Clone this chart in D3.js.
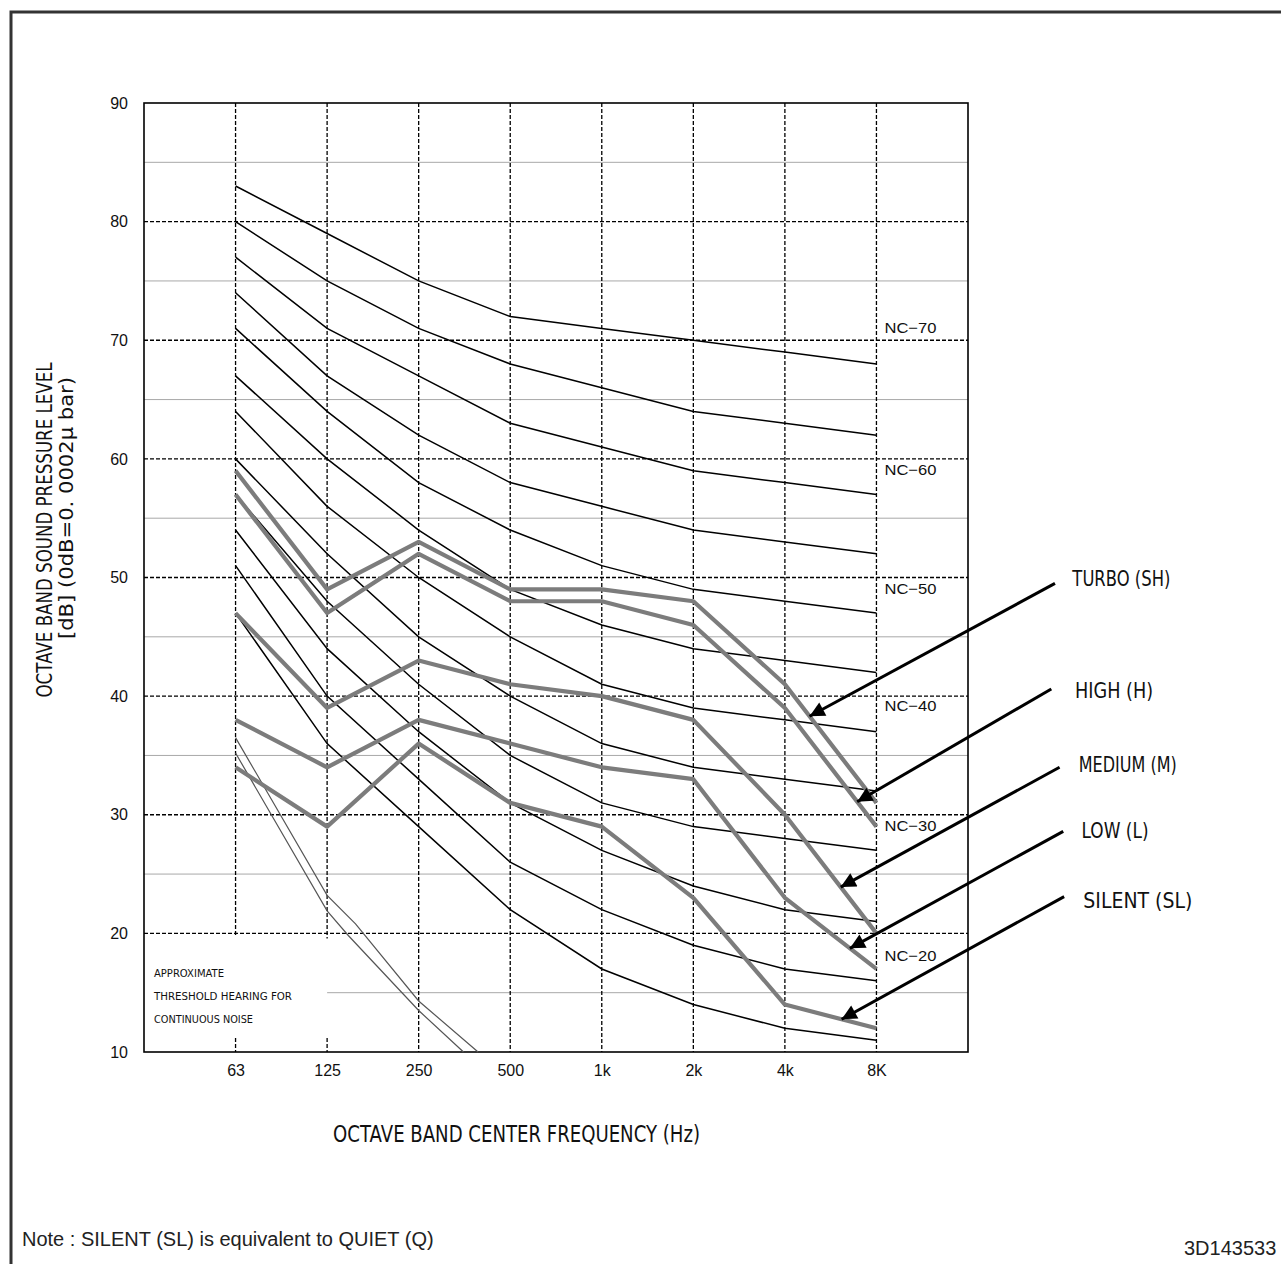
<!DOCTYPE html>
<html>
<head>
<meta charset="utf-8">
<script src="https://cdn.jsdelivr.net/npm/d3@7"></script>
<style>
  body { margin: 0; background: #fff; }
  svg { display: block; }
</style>
</head>
<body>
<div id="chart"></div>
<script>
// octave bands (nominal centre frequency in Hz) and their printed labels
const bandHz = [62.5, 125, 250, 500, 1000, 2000, 4000, 8000];
const bandLabels = ['63', '125', '250', '500', '1k', '2k', '4k', '8K'];

// NC reference curves, dB per band
const nc70 = [83, 79, 75, 72, 71, 70, 69, 68];
const nc65 = [80, 75, 71, 68, 66, 64, 63, 62];
const nc60 = [77, 71, 67, 63, 61, 59, 58, 57];
const nc55 = [74, 67, 62, 58, 56, 54, 53, 52];
const nc50 = [71, 64, 58, 54, 51, 49, 48, 47];
const nc45 = [67, 60, 54, 49, 46, 44, 43, 42];
const nc40 = [64, 56, 50, 45, 41, 39, 38, 37];
const nc35 = [60, 52, 45, 40, 36, 34, 33, 32];
const nc30 = [57, 48, 41, 35, 31, 29, 28, 27];
const nc25 = [54, 44, 37, 31, 27, 24, 22, 21];
const nc20 = [51, 40, 33, 26, 22, 19, 17, 16];
const nc15 = [47, 36, 29, 22, 17, 14, 12, 11];
const ncCurves = [nc70, nc65, nc60, nc55, nc50, nc45, nc40, nc35, nc30, nc25, nc20, nc15];

const ncLabels = ['NC\u221270', 'NC\u221260', 'NC\u221250', 'NC\u221240', 'NC\u221230', 'NC\u221220'];
const ncLabelDb = [70.6, 58.6, 48.65, 38.75, 28.65, 17.65];

// unit operating modes, dB per band
const modeNames = ['TURBO (SH)', 'HIGH (H)', 'MEDIUM (M)', 'LOW (L)', 'SILENT (SL)'];
const turbo = [59, 49, 53, 49, 49, 48, 41, 31];
const high = [57, 47, 52, 48, 48, 46, 39, 29];
const medium = [47, 39, 43, 41, 40, 38, 30, 20];
const low = [38, 34, 38, 36, 34, 33, 23, 17];
const silent = [34, 29, 36, 31, 29, 23, 14, 12];
const modes = [turbo, high, medium, low, silent];

// arrow annotations, in octaves above 63 Hz: tip on the curve, tail, label
const arrowTipOct = [6.27, 6.79, 6.61, 6.71, 6.62];
const arrowTailOct = [8.95, 8.91, 9.0, 9.04, 9.05];
const arrowTailDb = [49.5, 40.6, 34.0, 28.6, 23.1];
const labelOct = [9.14, 9.17, 9.21, 9.24, 9.26];
const labelDb = [49.3, 39.85, 33.6, 28.05, 22.15];
const labelWidths = [98, 78, 98, 67, 109];

// approximate threshold of hearing (Hz, dB)
const thresholdA = [[62.5, 36.5], [125, 23.2], [155, 20.8], [250, 14.3], [392, 10]];
const thresholdB = [[62.5, 35.2], [125, 21.9], [147, 19.8], [250, 13.5], [351, 10]];

const yMajor = [20, 30, 40, 50, 60, 70, 80];
const yMinor = [15, 25, 35, 45, 55, 65, 75, 85];
const yTicks = [10, 20, 30, 40, 50, 60, 70, 80, 90];

const width = 1281;
const height = 1264;
const plot = { left: 144, right: 968, top: 103, bottom: 1052 };

const svg = d3.select('#chart').append('svg')
  .attr('width', width)
  .attr('height', height);

// outer drawing frame
svg.append('path')
  .attr('d', `M11,${height}V12H${width}`)
  .attr('fill', 'none')
  .attr('stroke', '#333')
  .attr('stroke-width', 3);

const x = d3.scaleLog().base(2)
  .domain([31.25, 16000])
  .range([plot.left, plot.right]);
const y = d3.scaleLinear()
  .domain([10, 90])
  .range([plot.bottom, plot.top]);
const xo = (oct) => x(bandHz[0] * 2 ** oct);

// squeezed text like the narrow gothic font of the original
const narrow = (sel, txt, px, py, len, size, anchor) => sel.append('text')
  .attr('x', px)
  .attr('y', py)
  .attr('font-family', 'DejaVu Sans, sans-serif')
  .attr('font-size', size)
  .attr('text-anchor', anchor || 'start')
  .attr('textLength', len)
  .attr('lengthAdjust', 'spacingAndGlyphs')
  .attr('fill', '#111')
  .text(txt);

// minor grid
const grid = svg.append('g');
yMinor.forEach((v) => {
  const gx0 = v === 15 ? x(125) : plot.left;
  grid.append('line')
    .attr('x1', gx0).attr('x2', plot.right)
    .attr('y1', y(v)).attr('y2', y(v))
    .attr('stroke', '#a8a8a8')
    .attr('stroke-width', 1);
});

// major grid
yMajor.forEach((v) => {
  grid.append('line')
    .attr('x1', plot.left).attr('x2', plot.right)
    .attr('y1', y(v)).attr('y2', y(v))
    .attr('stroke', '#000')
    .attr('stroke-width', 1.3)
    .attr('stroke-dasharray', '4,2');
});

bandHz.forEach((f, i) => {
  const short = i < 2;
  grid.append('line')
    .attr('x1', x(f)).attr('x2', x(f))
    .attr('y1', plot.top)
    .attr('y2', short ? y(20) + 2 + i * 3 : plot.bottom)
    .attr('stroke', '#000')
    .attr('stroke-width', 1.3)
    .attr('stroke-dasharray', '4,2');
  if (short) {
    grid.append('line')
      .attr('x1', x(f)).attr('x2', x(f))
      .attr('y1', plot.bottom - 14).attr('y2', plot.bottom)
      .attr('stroke', '#000')
      .attr('stroke-width', 1.3)
      .attr('stroke-dasharray', '4,2');
  }
});

// plot frame
svg.append('rect')
  .attr('x', plot.left)
  .attr('y', plot.top)
  .attr('width', plot.right - plot.left)
  .attr('height', plot.bottom - plot.top)
  .attr('fill', 'none')
  .attr('stroke', '#000')
  .attr('stroke-width', 1.6);

// axes
const yAxis = svg.append('g')
  .attr('transform', `translate(${plot.left},0)`)
  .call(d3.axisLeft(y).tickValues(yTicks).tickSize(0).tickPadding(16));
const xAxis = svg.append('g')
  .attr('transform', `translate(0,${plot.bottom})`)
  .call(d3.axisBottom(x).tickValues(bandHz).tickFormat((d, i) => bandLabels[i]).tickSize(0).tickPadding(13));
[yAxis, xAxis].forEach((a) => {
  a.select('.domain').remove();
  a.selectAll('text')
    .attr('font-family', 'Liberation Sans, Arial, sans-serif')
    .attr('font-size', 16)
    .attr('fill', '#111');
});

const line = d3.line()
  .x((d, i) => x(bandHz[i]))
  .y((d) => y(d));

// NC curves
svg.append('g')
  .selectAll('path')
  .data(ncCurves)
  .join('path')
  .attr('d', line)
  .attr('fill', 'none')
  .attr('stroke', '#000')
  .attr('stroke-width', 1.5);

svg.append('g')
  .selectAll('text')
  .data(ncLabels)
  .join('text')
  .attr('x', x(8000) + 8)
  .attr('y', (d, i) => y(ncLabelDb[i]))
  .attr('font-family', 'Liberation Sans, Arial, sans-serif')
  .attr('font-size', 15)
  .attr('textLength', 52)
  .attr('lengthAdjust', 'spacingAndGlyphs')
  .attr('fill', '#111')
  .text((d) => d);

// threshold of hearing
const tLine = d3.line()
  .x((d) => x(d[0]))
  .y((d) => y(d[1]));
svg.append('g')
  .selectAll('path')
  .data([thresholdA, thresholdB])
  .join('path')
  .attr('d', tLine)
  .attr('fill', 'none')
  .attr('stroke', '#555')
  .attr('stroke-width', 1.2);

const thr = svg.append('g');
narrow(thr, 'APPROXIMATE', plot.left + 10, 977, 70, 11);
narrow(thr, 'THRESHOLD HEARING  FOR', plot.left + 10, 1000, 138, 11);
narrow(thr, 'CONTINUOUS NOISE', plot.left + 10, 1023, 99, 11);

// unit curves
svg.append('g')
  .selectAll('path')
  .data(modes)
  .join('path')
  .attr('d', line)
  .attr('fill', 'none')
  .attr('stroke', '#7c7c7c')
  .attr('stroke-width', 4.2)
  .attr('stroke-linejoin', 'round');

// arrows
svg.append('defs').append('marker')
  .attr('id', 'head')
  .attr('viewBox', '0 0 10 10')
  .attr('refX', 10)
  .attr('refY', 5)
  .attr('markerWidth', 6)
  .attr('markerHeight', 5)
  .attr('markerUnits', 'strokeWidth')
  .attr('orient', 'auto')
  .append('path')
  .attr('d', 'M0,0L10,5L0,10Z')
  .attr('fill', '#000');

const valueAt = (series, oct) => {
  const i = Math.min(Math.floor(oct), series.length - 2);
  return series[i] + (series[i + 1] - series[i]) * (oct - i);
};

const notes = svg.append('g');
modes.forEach((s, k) => {
  notes.append('line')
    .attr('x1', xo(arrowTailOct[k]))
    .attr('y1', y(arrowTailDb[k]))
    .attr('x2', xo(arrowTipOct[k]))
    .attr('y2', y(valueAt(s, arrowTipOct[k])))
    .attr('stroke', '#000')
    .attr('stroke-width', 3)
    .attr('marker-end', 'url(#head)');
  narrow(notes, modeNames[k], xo(labelOct[k]), y(labelDb[k]), labelWidths[k], 21);
});

// axis titles
narrow(svg, 'OCTAVE BAND CENTER FREQUENCY  (Hz)', 333, 1142, 367, 23);
const yt = svg.append('g').attr('transform', 'translate(52,530) rotate(-90)');
narrow(yt, 'OCTAVE BAND SOUND PRESSURE LEVEL', 0, 0, 335, 22, 'middle');
const yt2 = svg.append('g').attr('transform', 'translate(73,508) rotate(-90)');
narrow(yt2, '[dB]  (0dB=0. 0002\u03bc bar)', 0, 0, 262, 20, 'middle');

// footer texts
svg.append('text')
  .attr('x', 22)
  .attr('y', 1246)
  .attr('font-family', 'Liberation Sans, Arial, sans-serif')
  .attr('font-size', 20)
  .attr('fill', '#222')
  .text('Note : SILENT (SL) is equivalent to QUIET (Q)');
svg.append('text')
  .attr('x', 1184)
  .attr('y', 1255)
  .attr('font-family', 'Liberation Sans, Arial, sans-serif')
  .attr('font-size', 20)
  .attr('fill', '#222')
  .text('3D143533');
</script>
</body>
</html>
